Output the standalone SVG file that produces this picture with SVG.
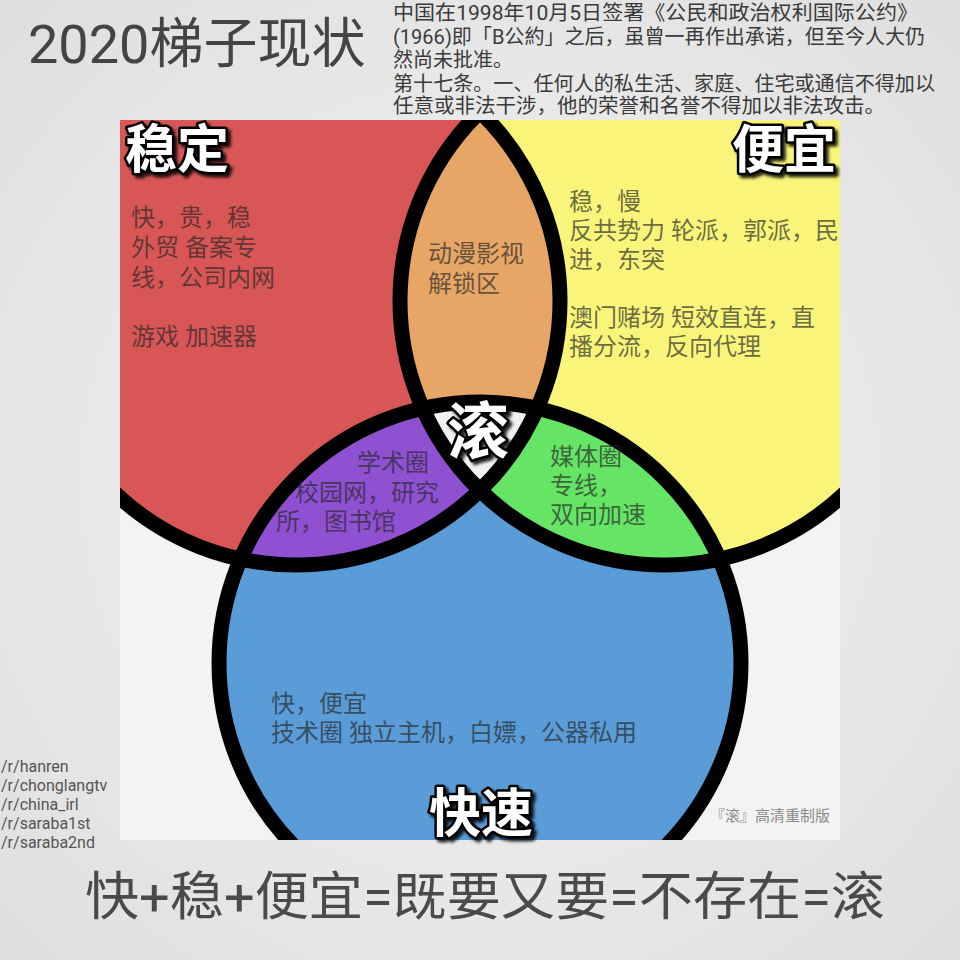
<svg xmlns="http://www.w3.org/2000/svg" width="960" height="960" viewBox="0 0 960 960">
<defs>
  <radialGradient id="bg" cx="50%" cy="50%" r="72%">
    <stop offset="0" stop-color="#f5f5f5"/>
    <stop offset="1" stop-color="#dedede"/>
  </radialGradient>
  <clipPath id="panel"><rect x="120" y="120" width="720" height="720"/></clipPath>
  <clipPath id="cr"><circle cx="296" cy="301" r="264"/></clipPath>
  <clipPath id="cy"><circle cx="664" cy="301" r="264"/></clipPath>
  <clipPath id="cb"><circle cx="480" cy="663" r="261"/></clipPath>
  <filter id="sh" x="-20%" y="-20%" width="150%" height="150%">
    <feDropShadow dx="3" dy="3" stdDeviation="1.5" flood-color="#000" flood-opacity="0.85"/>
  </filter>
</defs>
<style>
  .t{font-family:Roboto,"Noto Sans CJK SC",sans-serif}
  .head{font-size:20px;fill:#3a3a3a}
  .lbl{font-family:Roboto,"Noto Sans CJK SC",sans-serif;font-size:24px;fill:#262626;fill-opacity:.68}
  .big{font-family:"Noto Sans CJK SC",sans-serif;font-weight:700;fill:#fff;stroke:#000;stroke-width:5;paint-order:stroke;stroke-linejoin:round;filter:url(#sh)}
  .ring{fill:none;stroke:#000;stroke-width:15}
</style>

<rect x="0" y="0" width="960" height="960" fill="url(#bg)"/>

<text class="t" x="28" y="63" font-size="54" fill="#444">2020梯子现状</text>

<g id="preface" class="t head">
  <text x="393" y="20" textLength="525" lengthAdjust="spacingAndGlyphs">中国在1998年10月5日签署《公民和政治权利国际公约》</text>
  <text x="393" y="44" textLength="532" lengthAdjust="spacingAndGlyphs">(1966)即「B公約」之后，虽曾一再作出承诺，但至今人大仍</text>
  <text x="393" y="67">然尚未批准。</text>
  <text x="393" y="91" textLength="542" lengthAdjust="spacingAndGlyphs">第十七条。一、任何人的私生活、家庭、住宅或通信不得加以</text>
  <text x="393" y="113" textLength="492" lengthAdjust="spacingAndGlyphs">任意或非法干涉，他的荣誉和名誉不得加以非法攻击。</text>
</g>

<g id="venn" clip-path="url(#panel)">
  <rect x="120" y="120" width="720" height="720" fill="#f3f3f3"/>
  <g id="stable"><circle cx="296" cy="301" r="264" fill="#d85656"/></g>
  <g id="cheap"><circle cx="664" cy="301" r="264" fill="#f9f57a"/></g>
  <g id="fast"><circle cx="480" cy="663" r="261" fill="#5a9cd8"/></g>
  <g id="anime"><circle cx="664" cy="301" r="264" fill="#e8a666" clip-path="url(#cr)"/></g>
  <g id="academic"><circle cx="480" cy="663" r="261" fill="#8f50d2" clip-path="url(#cr)"/></g>
  <g id="media"><circle cx="480" cy="663" r="261" fill="#66e466" clip-path="url(#cy)"/></g>
  <g id="gun" clip-path="url(#cy)"><circle cx="480" cy="663" r="261" fill="#f1f1f1" clip-path="url(#cr)"/></g>
  <g id="outlines">
    <circle class="ring" cx="296" cy="301" r="264"/>
    <circle class="ring" cx="664" cy="301" r="264"/>
    <circle class="ring" cx="480" cy="663" r="261"/>
  </g>
</g>

<g id="stable-text" class="lbl">
  <text x="131" y="226">快，贵，稳</text>
  <text x="131" y="256">外贸 备案专</text>
  <text x="131" y="286">线，公司内网</text>
  <text x="131" y="345">游戏 加速器</text>
</g>
<g id="cheap-text" class="lbl">
  <text x="569" y="210">稳，慢</text>
  <text x="569" y="239">反共势力 轮派，郭派，民</text>
  <text x="569" y="268">进，东突</text>
  <text x="569" y="326">澳门赌场 短效直连，直</text>
  <text x="569" y="355">播分流，反向代理</text>
</g>
<g id="anime-text" class="lbl">
  <text x="428" y="262">动漫影视</text>
  <text x="428" y="292">解锁区</text>
</g>
<g id="academic-text" class="lbl">
  <text x="357" y="471">学术圈</text>
  <text x="295" y="501">校园网，研究</text>
  <text x="276" y="530">所，图书馆</text>
</g>
<g id="media-text" class="lbl">
  <text x="550" y="465">媒体圈</text>
  <text x="550" y="494">专线，</text>
  <text x="550" y="523">双向加速</text>
</g>
<g id="fast-text" class="lbl">
  <text x="271" y="712">快，便宜</text>
  <text x="271" y="741">技术圈 独立主机，白嫖，公器私用</text>
</g>

<g id="titles">
  <text class="big" x="125" y="168" font-size="52">稳定</text>
  <text class="big" x="836" y="168" font-size="52" text-anchor="end">便宜</text>
  <text class="big" x="481" y="832" font-size="52" text-anchor="middle">快速</text>
  <text class="big" x="478" y="454" font-size="62" font-weight="400" text-anchor="middle">滚</text>
</g>

<text class="t" x="710" y="821" font-size="15" fill="#8a8a8a">『滚』高清重制版</text>

<g id="subs" class="t" font-size="16" fill="#555">
  <text x="1" y="772">/r/hanren</text>
  <text x="1" y="791">/r/chonglangtv</text>
  <text x="1" y="810">/r/china_irl</text>
  <text x="1" y="829">/r/saraba1st</text>
  <text x="1" y="848">/r/saraba2nd</text>
</g>

<text class="t" x="85" y="915" font-size="52" fill="#4a4a4a" textLength="800" lengthAdjust="spacingAndGlyphs">快+稳+便宜=既要又要=不存在=滚</text>
</svg>
